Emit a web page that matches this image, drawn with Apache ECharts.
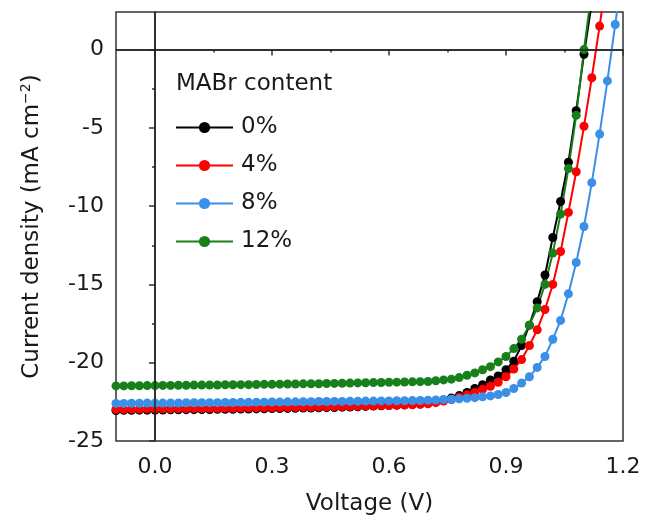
<!DOCTYPE html>
<html>
<head>
<meta charset="utf-8">
<script src="https://cdn.jsdelivr.net/npm/echarts@6/dist/echarts.min.js"></script>
<style>html,body{margin:0;padding:0;background:#fff}#c{width:646px;height:526px}</style>
</head>
<body>
<div id="c"></div>
<script>
const voltage = [-0.10,-0.08,-0.06,-0.04,-0.02,0.00,0.02,0.04,0.06,0.08,0.10,0.12,0.14,0.16,0.18,0.20,0.22,0.24,0.26,0.28,0.30,0.32,0.34,0.36,0.38,0.40,0.42,0.44,0.46,0.48,0.50,0.52,0.54,0.56,0.58,0.60,0.62,0.64,0.66,0.68,0.70,0.72,0.74,0.76,0.78,0.80,0.82,0.84,0.86,0.88,0.90,0.92,0.94,0.96,0.98,1.00,1.02,1.04,1.06,1.08,1.10,1.12,1.14,1.16,1.18,1.20];

const seriesNames = ['0%', '4%', '8%', '12%'];

const j0 = [-23.05,-23.04,-23.04,-23.03,-23.03,-23.02,-23.02,-23.01,-23.01,-23.00,
  -23.00,-22.99,-22.99,-22.98,-22.98,-22.97,-22.96,-22.96,-22.95,-22.94,
  -22.93,-22.93,-22.92,-22.91,-22.90,-22.89,-22.88,-22.87,-22.86,-22.84,
  -22.83,-22.81,-22.79,-22.77,-22.75,-22.73,-22.71,-22.69,-22.67,-22.64,
  -22.60,-22.50,-22.40,-22.25,-22.10,-21.90,-21.65,-21.40,-21.10,-20.85,
  -20.45,-19.90,-18.90,-17.60,-16.10,-14.40,-12.00,-9.70,-7.20,-3.90,
  -0.30,3.00];

const j4 = [-22.97,-22.97,-22.96,-22.96,-22.95,-22.95,-22.94,-22.94,-22.93,-22.93,
  -22.92,-22.92,-22.91,-22.91,-22.90,-22.90,-22.89,-22.88,-22.88,-22.87,
  -22.86,-22.86,-22.85,-22.84,-22.84,-22.83,-22.82,-22.81,-22.80,-22.79,
  -22.78,-22.77,-22.76,-22.75,-22.74,-22.73,-22.72,-22.70,-22.68,-22.65,
  -22.62,-22.55,-22.45,-22.35,-22.20,-22.05,-21.90,-21.70,-21.50,-21.25,
  -20.90,-20.40,-19.80,-18.90,-17.90,-16.60,-15.00,-12.90,-10.40,-7.80,
  -4.90,-1.80,1.50,5.00];

const j8 = [-22.60,-22.60,-22.59,-22.59,-22.58,-22.58,-22.58,-22.57,-22.57,-22.56,
  -22.56,-22.56,-22.55,-22.55,-22.54,-22.54,-22.53,-22.53,-22.52,-22.52,
  -22.51,-22.51,-22.50,-22.50,-22.49,-22.49,-22.48,-22.48,-22.47,-22.47,
  -22.46,-22.46,-22.45,-22.45,-22.44,-22.44,-22.43,-22.43,-22.42,-22.41,
  -22.40,-22.38,-22.35,-22.33,-22.30,-22.27,-22.23,-22.18,-22.12,-22.03,
  -21.90,-21.65,-21.30,-20.90,-20.30,-19.60,-18.50,-17.30,-15.60,-13.60,
  -11.30,-8.50,-5.40,-2.00,1.60,5.20];

const j12 = [-21.48,-21.48,-21.47,-21.47,-21.46,-21.46,-21.45,-21.45,-21.44,-21.44,
  -21.43,-21.43,-21.42,-21.42,-21.41,-21.41,-21.40,-21.40,-21.39,-21.38,
  -21.38,-21.37,-21.36,-21.36,-21.35,-21.34,-21.34,-21.33,-21.32,-21.31,
  -21.30,-21.29,-21.28,-21.27,-21.26,-21.25,-21.24,-21.23,-21.22,-21.21,
  -21.20,-21.15,-21.10,-21.05,-20.95,-20.80,-20.65,-20.45,-20.25,-19.95,
  -19.60,-19.10,-18.50,-17.60,-16.50,-15.00,-13.00,-10.50,-7.60,-4.20,
  0.00,3.80];

const xTickLabels = [0.0, 0.3, 0.6, 0.9, 1.2];
const xMinorTicks = [0.15, 0.45, 0.75, 1.05];
const yTickLabels = [-25, -20, -15, -10, -5, 0];
const yMinorTicks = [-22.5, -17.5, -12.5, -7.5, -2.5];

const colors = ['#000000', '#ff0000', '#3a8fe6', '#17801a'];
const allJ = [j0, j4, j8, j12];

const FONT = 'DejaVu Sans, Verdana, sans-serif';
const TXT = '#1a1a1a';
const AX = '#333333';

const chart = echarts.init(document.getElementById('c'), null, {renderer: 'canvas'});

const dataSeries = allJ.map((arr, k) => ({
  name: seriesNames[k],
  type: 'line',
  xAxisIndex: 0,
  yAxisIndex: 0,
  data: arr.map((v, i) => [voltage[i], v]),
  symbol: 'circle',
  symbolSize: 9,
  showSymbol: true,
  clip: true,
  z: 3,
  lineStyle: {color: colors[k], width: 2},
  itemStyle: {color: colors[k]},
  emphasis: {disabled: true},
  animation: false
}));

const refSeries = {
  type: 'line',
  data: [],
  z: 1,
  silent: true,
  markLine: {
    silent: true,
    symbol: ['none', 'none'],
    label: {show: false},
    lineStyle: {color: '#222', width: 1.5, type: 'solid'},
    data: [{xAxis: 0}, {yAxis: 0}],
    animation: false
  }
};

const option = {
  animation: false,
  backgroundColor: '#fff',
  color: colors,
  textStyle: {fontFamily: FONT},
  grid: {left: 116, right: 23, top: 12, bottom: 85, show: true, borderColor: AX, borderWidth: 1.5, backgroundColor: 'transparent'},
  title: {
    text: 'MABr content',
    left: 171, top: 68,
    textStyle: {fontFamily: FONT, fontSize: 23, fontWeight: 'normal', color: TXT}
  },
  legend: {
    data: seriesNames,
    orient: 'vertical',
    left: 170, top: 111,
    itemWidth: 57, itemHeight: 14, itemGap: 15,
    textStyle: {fontFamily: FONT, fontSize: 23, color: TXT, padding: [0,0,0,3]},
    selectedMode: false
  },
  xAxis: [{
    type: 'value', min: -0.1, max: 1.2,
    position: 'bottom',
    name: 'Voltage (V)', nameLocation: 'middle', nameGap: 52,
    nameTextStyle: {fontFamily: FONT, fontSize: 23, color: TXT},
    axisLine: {show: true, lineStyle: {color: AX, width: 1.5}},
    axisTick: {show: true, inside: false, length: 6, customValues: xTickLabels, lineStyle: {color: AX, width: 1.5}},
    axisLabel: {show: true, margin: 15, fontFamily: FONT, fontSize: 22, color: TXT, customValues: xTickLabels,
      formatter: v => v.toFixed(1)},
    splitLine: {show: false}
  }, {
    type: 'value', min: -0.1, max: 1.2,
    position: 'bottom',
    axisLine: {show: false},
    axisTick: {show: true, inside: false, length: 3, customValues: xMinorTicks, lineStyle: {color: AX, width: 1.5}},
    axisLabel: {show: false},
    splitLine: {show: false}
  }],
  yAxis: [{
    type: 'value', min: -25, max: 2.4,
    position: 'left',
    name: '{a|Current density (mA cm}{s|−2}{a|)}', nameLocation: 'middle', nameGap: 70, nameRotate: 90,
    nameTextStyle: {
      rich: {
        a: {fontFamily: FONT, fontSize: 23, color: TXT, lineHeight: 27},
        s: {fontFamily: FONT, fontSize: 14, color: TXT, lineHeight: 15, verticalAlign: 'top'}
      }
    },
    axisLine: {show: true, lineStyle: {color: AX, width: 1.5}},
    axisTick: {show: true, inside: false, length: 6, customValues: yTickLabels, lineStyle: {color: AX, width: 1.5}},
    axisLabel: {show: true, margin: 12, fontFamily: FONT, fontSize: 22, color: TXT, customValues: yTickLabels},
    splitLine: {show: false}
  }, {
    type: 'value', min: -25, max: 2.4,
    position: 'left',
    axisLine: {show: false},
    axisTick: {show: true, inside: false, length: 3, customValues: yMinorTicks, lineStyle: {color: AX, width: 1.5}},
    axisLabel: {show: false},
    splitLine: {show: false}
  }],
  series: [refSeries].concat(dataSeries)
};

chart.setOption(option);
</script>
</body>
</html>
